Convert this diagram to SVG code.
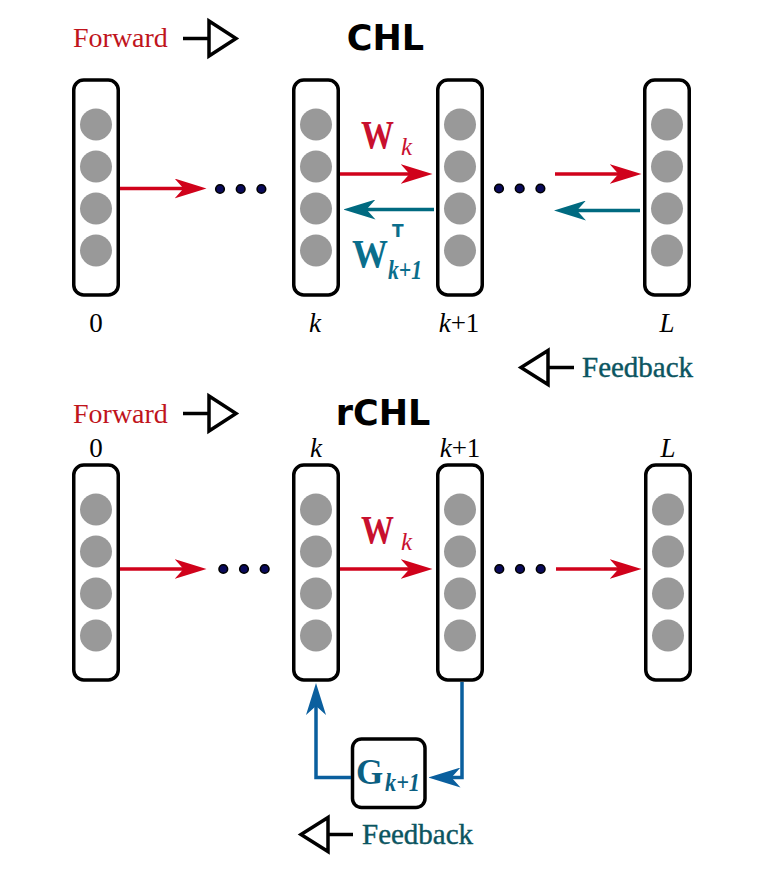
<svg xmlns="http://www.w3.org/2000/svg" width="770" height="870" viewBox="0 0 770 870">
<style>
.box{fill:#fff;stroke:#000;stroke-width:3.5}
.neu{fill:#999}
.dot{fill:#0a0a5a;stroke:#000;stroke-width:1.6}
.red{fill:none;stroke:#d0021b;stroke-width:3.5}
.teal{fill:none;stroke:#006a80;stroke-width:3.5}
.blue{fill:none;stroke:#0a5f9e;stroke-width:3.5}
.sym{fill:#fff;stroke:#000;stroke-width:3.5;stroke-linejoin:miter}
.symline{stroke:#000;stroke-width:3.5}
.lbl{font-family:"Liberation Serif","Times New Roman",serif;font-size:27px;fill:#000}
.it{font-style:italic}
.title{font-family:"DejaVu Sans",sans-serif;font-weight:bold;font-size:35px;fill:#000}
.fwd{font-family:"Liberation Serif",serif;font-size:28px;fill:#c0141c}
.fb{font-family:"Liberation Serif",serif;font-size:29px;fill:#0b5561;stroke:#0b5561;stroke-width:0.4}
.bw{font-family:"Liberation Serif",serif;font-weight:bold}
.bi{font-family:"Liberation Serif",serif;font-weight:bold;font-style:italic}
</style>
<defs>
<marker id="ah-red" viewBox="0 0 32 20" refX="12" refY="10" markerWidth="32" markerHeight="20" markerUnits="userSpaceOnUse" orient="auto"><path d="M0,0 L32,10 L0,20 L9,10 Z" fill="#d0021b"/></marker>
<marker id="ah-teal" viewBox="0 0 32 20" refX="12" refY="10" markerWidth="32" markerHeight="20" markerUnits="userSpaceOnUse" orient="auto"><path d="M0,0 L32,10 L0,20 L9,10 Z" fill="#006a80"/></marker>
<marker id="ah-blue" viewBox="0 0 32 20" refX="12" refY="10" markerWidth="32" markerHeight="20" markerUnits="userSpaceOnUse" orient="auto"><path d="M0,0 L32,10 L0,20 L9,10 Z" fill="#0a5f9e"/></marker>
<g id="layer">
<rect class="box" x="-22.25" y="0" width="44.5" height="215" rx="10"/>
<circle class="neu" cx="0" cy="44.5" r="16"/>
<circle class="neu" cx="0" cy="86.5" r="16"/>
<circle class="neu" cx="0" cy="128.5" r="16"/>
<circle class="neu" cx="0" cy="170.5" r="16"/>
</g>
<g id="dots3">
<circle class="dot" cx="0" cy="0" r="4.3"/>
<circle class="dot" cx="20.7" cy="0" r="4.3"/>
<circle class="dot" cx="41.4" cy="0" r="4.3"/>
</g>
</defs>

<!-- ===== CHL (top) ===== -->
<g id="chl-title"><text class="title" x="385.5" y="50" text-anchor="middle">CHL</text></g>
<g id="chl-forward">
<text class="fwd" x="73" y="47">Forward</text>
<line class="symline" x1="183" y1="38.5" x2="209" y2="38.5"/>
<polygon class="sym" points="209,21 236,38.5 209,56"/>
</g>
<g id="chl-feedback">
<line class="symline" x1="548" y1="367.5" x2="574" y2="367.5"/>
<polygon class="sym" points="548,350.5 521,367.5 548,384.5"/>
<text class="fb" x="582" y="377">Feedback</text>
</g>

<g id="chl-layer-0"><use href="#layer" x="96" y="80"/><text class="lbl" x="96" y="332" text-anchor="middle">0</text></g>
<g id="chl-layer-k"><use href="#layer" x="316" y="80"/><text class="lbl it" x="315" y="332" text-anchor="middle">k</text></g>
<g id="chl-layer-k1"><use href="#layer" x="460" y="80"/><text class="lbl" x="459" y="332" text-anchor="middle"><tspan class="it">k</tspan>+1</text></g>
<g id="chl-layer-L"><use href="#layer" x="667" y="80"/><text class="lbl it" x="667" y="332" text-anchor="middle">L</text></g>
<g id="chl-dots-1"><use href="#dots3" x="220" y="189"/></g>
<g id="chl-dots-2"><use href="#dots3" x="499" y="188.5"/></g>

<g id="chl-labels">
<text class="bw" x="361" y="147.5" font-size="41" fill="#c8102e" textLength="33" lengthAdjust="spacingAndGlyphs">W</text>
<text class="lbl it" x="401" y="155" style="font-size:25px;fill:#c8102e">k</text>
<text class="bw" x="352" y="267" font-size="39" fill="#0a6e8c" textLength="36" lengthAdjust="spacingAndGlyphs">W</text>
<text x="392" y="237" font-family="DejaVu Sans,sans-serif" font-weight="bold" font-size="17" fill="#0a6e8c">T</text>
<text class="bi" x="388" y="278.5" font-size="27" fill="#0a6e8c" textLength="34" lengthAdjust="spacingAndGlyphs">k+1</text>
</g>

<!-- ===== rCHL (bottom) ===== -->
<g id="rchl-title"><text class="title" x="383" y="425" text-anchor="middle">rCHL</text></g>
<g id="rchl-forward">
<text class="fwd" x="73" y="422.5">Forward</text>
<line class="symline" x1="183" y1="413.5" x2="209" y2="413.5"/>
<polygon class="sym" points="209,396 236,413.5 209,431"/>
</g>
<g id="rchl-feedback">
<line class="symline" x1="328" y1="834.5" x2="353" y2="834.5"/>
<polygon class="sym" points="328,817.5 301,834.5 328,851.5"/>
<text class="fb" x="362" y="843.5">Feedback</text>
</g>

<g id="rchl-layer-0"><use href="#layer" x="96" y="465"/><text class="lbl" x="96" y="456.5" text-anchor="middle">0</text></g>
<g id="rchl-layer-k"><use href="#layer" x="316" y="465"/><text class="lbl it" x="316" y="456.5" text-anchor="middle">k</text></g>
<g id="rchl-layer-k1"><use href="#layer" x="460" y="465"/><text class="lbl" x="460" y="456.5" text-anchor="middle"><tspan class="it">k</tspan>+1</text></g>
<g id="rchl-layer-L"><use href="#layer" x="668" y="465"/><text class="lbl it" x="668" y="456.5" text-anchor="middle">L</text></g>
<g id="rchl-dots-1"><use href="#dots3" x="223.3" y="569"/></g>
<g id="rchl-dots-2"><use href="#dots3" x="499.3" y="569"/></g>

<g id="rchl-G">
<rect class="box" x="352.5" y="739" width="72.5" height="68.5" rx="9"/>
<text class="bw" x="356" y="783.5" font-size="35" fill="#0b5f82">G</text>
<text class="bi" x="385" y="790.5" font-size="25" fill="#0b5f82" textLength="35" lengthAdjust="spacingAndGlyphs">k+1</text>
</g>
<g id="rchl-labels">
<text class="bw" x="361" y="542.5" font-size="41" fill="#c8102e" textLength="33" lengthAdjust="spacingAndGlyphs">W</text>
<text class="lbl it" x="401" y="550" style="font-size:25px;fill:#c8102e">k</text>
</g>

<!-- ===== connectors ===== -->
<g id="connectors">
<line class="red" x1="120" y1="188.5" x2="186.5" y2="188.5" marker-end="url(#ah-red)"/>
<line class="red" x1="340" y1="174" x2="412.5" y2="174" marker-end="url(#ah-red)"/>
<line class="teal" x1="434" y1="209.5" x2="363.5" y2="209.5" marker-end="url(#ah-teal)"/>
<line class="red" x1="555" y1="174" x2="621.5" y2="174" marker-end="url(#ah-red)"/>
<line class="teal" x1="640" y1="210.5" x2="574" y2="210.5" marker-end="url(#ah-teal)"/>

<line class="red" x1="120" y1="569" x2="186.5" y2="569" marker-end="url(#ah-red)"/>
<line class="red" x1="340" y1="569" x2="412.5" y2="569" marker-end="url(#ah-red)"/>
<line class="red" x1="556" y1="569" x2="621.5" y2="569" marker-end="url(#ah-red)"/>

<polyline class="blue" points="462,682 462,777.5 448.5,777.5" marker-end="url(#ah-blue)"/>
<polyline class="blue" points="351,777.5 316,777.5 316,703" marker-end="url(#ah-blue)"/>
</g>
</svg>
